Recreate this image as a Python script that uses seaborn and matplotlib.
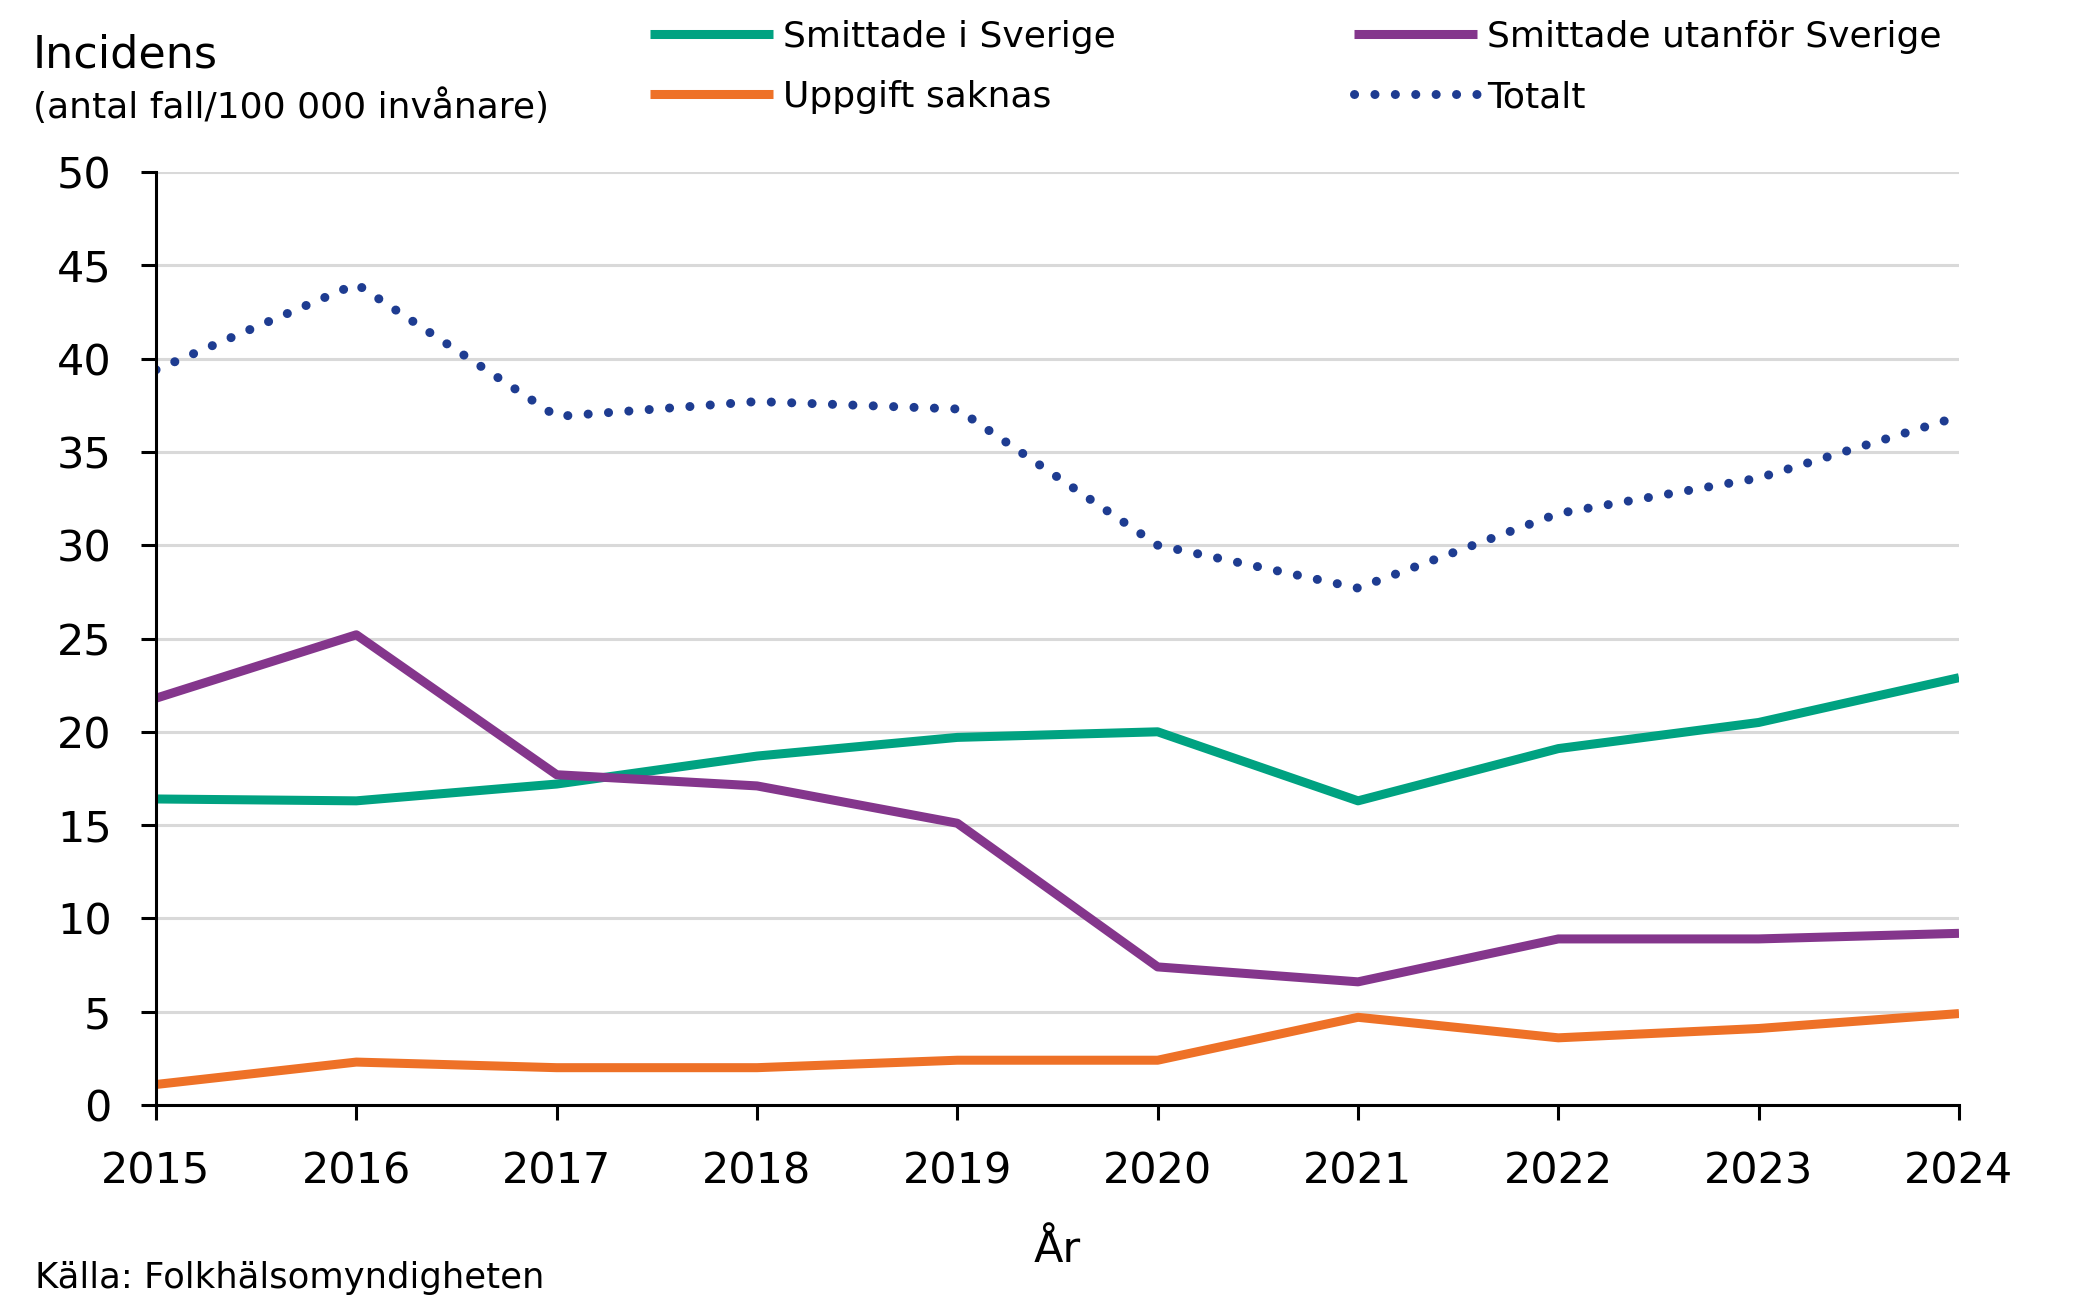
import matplotlib
matplotlib.use("Agg")
import matplotlib.pyplot as plt
import seaborn as sns
import pandas as pd

# data
years = [2015, 2016, 2017, 2018, 2019, 2020, 2021, 2022, 2023, 2024]
smittade_sverige = [16.4, 16.3, 17.2, 18.7, 19.7, 20.0, 16.3, 19.1, 20.5, 22.9]
smittade_utanfor = [21.8, 25.2, 17.7, 17.1, 15.1, 7.4, 6.6, 8.9, 8.9, 9.2]
uppgift_saknas = [1.1, 2.3, 2.0, 2.0, 2.4, 2.4, 4.7, 3.6, 4.1, 4.9]
totalt = [39.4, 44.0, 36.9, 37.7, 37.3, 30.0, 27.7, 31.7, 33.6, 36.9]

series_names = ["Smittade i Sverige", "Smittade utanför Sverige",
                "Uppgift saknas", "Totalt"]
series_colors = ["#00A281", "#84368C", "#EE7127", "#1E3C91"]
y_ticks = list(range(0, 55, 5))

df = pd.DataFrame({
    "year": years * 4,
    "value": smittade_sverige + smittade_utanfor + uppgift_saknas + totalt,
    "series": [n for n in series_names for _ in years],
})

sns.set_style("white")
plt.rcParams["font.family"] = ["DejaVu Sans"]
plt.rcParams["text.color"] = "black"
plt.rcParams["axes.labelcolor"] = "black"

fig = plt.figure(figsize=(20.79, 13), dpi=100)
ax = fig.add_axes([156 / 2079, 195 / 1300, 1803 / 2079, 933 / 1300])

for name, color in zip(series_names, series_colors):
    sub = df[df["series"] == name]
    if name == "Totalt":
        sns.lineplot(data=sub, x="year", y="value", ax=ax, color=color,
                     linewidth=6.5, linestyle=(0, (0.01, 2.25)),
                     dash_capstyle="round", label=name)
    else:
        sns.lineplot(data=sub, x="year", y="value", ax=ax, color=color,
                     linewidth=6.5, solid_capstyle="butt", label=name)

ax.set_xlim(years[0], years[-1])
ax.set_ylim(0, 50)
ax.set_xticks(years)
ax.set_yticks(y_ticks)
ax.yaxis.grid(True, color="#d9d9d9", linewidth=2.2)
ax.set_axisbelow(True)
for s in ["top", "right"]:
    ax.spines[s].set_visible(False)
for s in ["left", "bottom"]:
    ax.spines[s].set_color("black")
    ax.spines[s].set_linewidth(2.2)
ax.tick_params(axis="both", direction="out", length=11, width=2.2,
               color="black", labelsize=31, labelcolor="black",
               bottom=True, left=True)
ax.tick_params(axis="y", pad=21)
ax.tick_params(axis="x", pad=22)
ax.set_ylabel("")
ax.set_xlabel("År", fontsize=31, labelpad=26)

# legend, reordered so the columns read like the reference
handles, labels = ax.get_legend_handles_labels()
ax.get_legend().remove()
order = [0, 2, 1, 3]
fig.legend([handles[i] for i in order], [labels[i] for i in order],
           loc="upper left", bbox_to_anchor=(650 / 2079, 1 - 20 / 1300),
           ncol=2, frameon=False, fontsize=26, handlelength=3.4,
           handletextpad=0.28, columnspacing=6.6, labelspacing=0.72,
           borderpad=0, borderaxespad=0)

fig.text(33 / 2079, 1 - 67 / 1300, "Incidens", fontsize=32, va="baseline")
fig.text(33 / 2079, 1 - 118 / 1300, "(antal fall/100 000 invånare)",
         fontsize=26, va="baseline")
fig.text(35 / 2079, 1 - 1288 / 1300, "Källa: Folkhälsomyndigheten",
         fontsize=25.5, va="baseline")

fig.savefig("out.png", dpi=100)
plt.close(fig)
